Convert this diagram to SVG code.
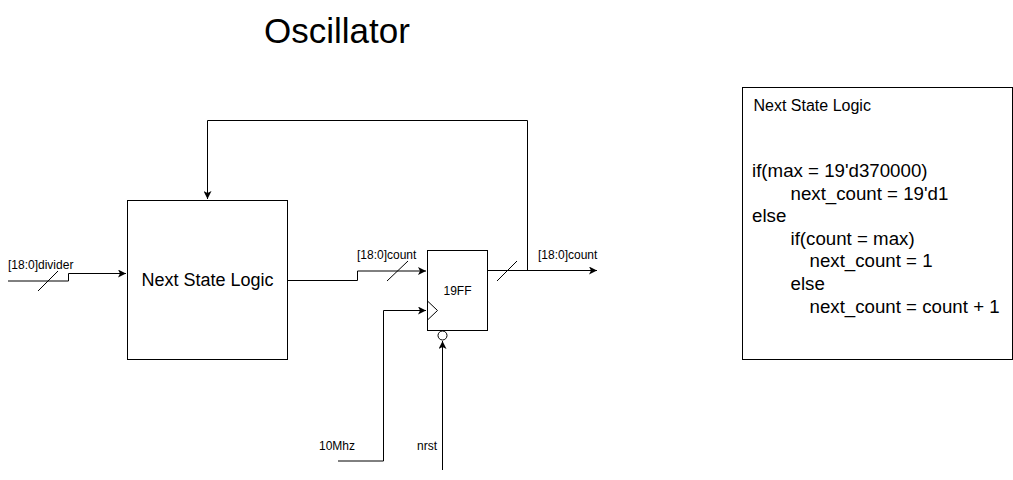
<svg xmlns="http://www.w3.org/2000/svg" width="1013" height="480" viewBox="0 0 1013 480">
<style>
  text { font-family: "Liberation Sans", Arial, sans-serif; fill: #000; }
  .box { fill: #fff; stroke: #000; stroke-width: 1; }
  .wire { fill: none; stroke: #000; stroke-width: 1; }
  .lbl { font-size: 12px; }
  .code { font-size: 18.7px; }
</style>
<defs>
  <marker id="arr" viewBox="0 0 10 10" refX="10" refY="5" markerWidth="8" markerHeight="8" markerUnits="userSpaceOnUse" orient="auto">
    <path d="M0,0 L10,5 L0,10 L2.5,5 Z" fill="#000"/>
  </marker>
</defs>
<rect width="1013" height="480" fill="#fff"/>

<text x="337" y="43" font-size="35" text-anchor="middle">Oscillator</text>

<g id="connectors">
  <!-- divider input -->
  <path class="wire" d="M8,281 H68.5 V273.5 H126" marker-end="url(#arr)"/>
  <line class="wire" x1="38" y1="291" x2="58" y2="271"/>
  <!-- next state to FF -->
  <path class="wire" d="M287,280.5 H357.5 V271 H426" marker-end="url(#arr)"/>
  <line class="wire" x1="387" y1="281" x2="408" y2="261"/>
  <!-- FF output -->
  <path class="wire" d="M487,270.5 H597" marker-end="url(#arr)"/>
  <line class="wire" x1="497" y1="281" x2="517" y2="261"/>
  <!-- feedback -->
  <path class="wire" d="M527.5,270.5 V120.5 H207.5 V199" marker-end="url(#arr)"/>
  <!-- clock -->
  <path class="wire" d="M338,461 H383.5 V310.5 H426" marker-end="url(#arr)"/>
  <!-- reset -->
  <path class="wire" d="M442.5,470 V341" marker-end="url(#arr)"/>
</g>

<g id="next-state-logic">
  <rect class="box" x="127.5" y="200.5" width="160" height="159"/>
  <text x="207.5" y="286" font-size="18" text-anchor="middle">Next State Logic</text>
</g>

<g id="ff">
  <rect class="box" x="427.5" y="250.5" width="60" height="80"/>
  <path class="wire" d="M427.5,301 L437.5,310.5 L427.5,320"/>
  <circle class="box" cx="442.5" cy="335.5" r="4.5"/>
  <text x="457.5" y="294.5" font-size="12" text-anchor="middle">19FF</text>
</g>

<g id="labels">
  <text class="lbl" x="8" y="269">[18:0]divider</text>
  <text class="lbl" x="357" y="259">[18:0]count</text>
  <text class="lbl" x="538" y="259">[18:0]count</text>
  <text class="lbl" x="319" y="450">10Mhz</text>
  <text class="lbl" x="417" y="450">nrst</text>
</g>

<g id="notes">
  <rect class="box" x="742.5" y="87.5" width="270" height="272"/>
  <text x="753.5" y="111" font-size="16">Next State Logic</text>
  <text class="code" x="752" y="177">if(max = 19'd370000)</text>
  <text class="code" x="790.5" y="199.6">next_count = 19'd1</text>
  <text class="code" x="752" y="222.2">else</text>
  <text class="code" x="790.5" y="244.8">if(count = max)</text>
  <text class="code" x="809.5" y="267.4">next_count = 1</text>
  <text class="code" x="790.5" y="290">else</text>
  <text class="code" x="809.5" y="312.6">next_count = count + 1</text>
</g>
</svg>
